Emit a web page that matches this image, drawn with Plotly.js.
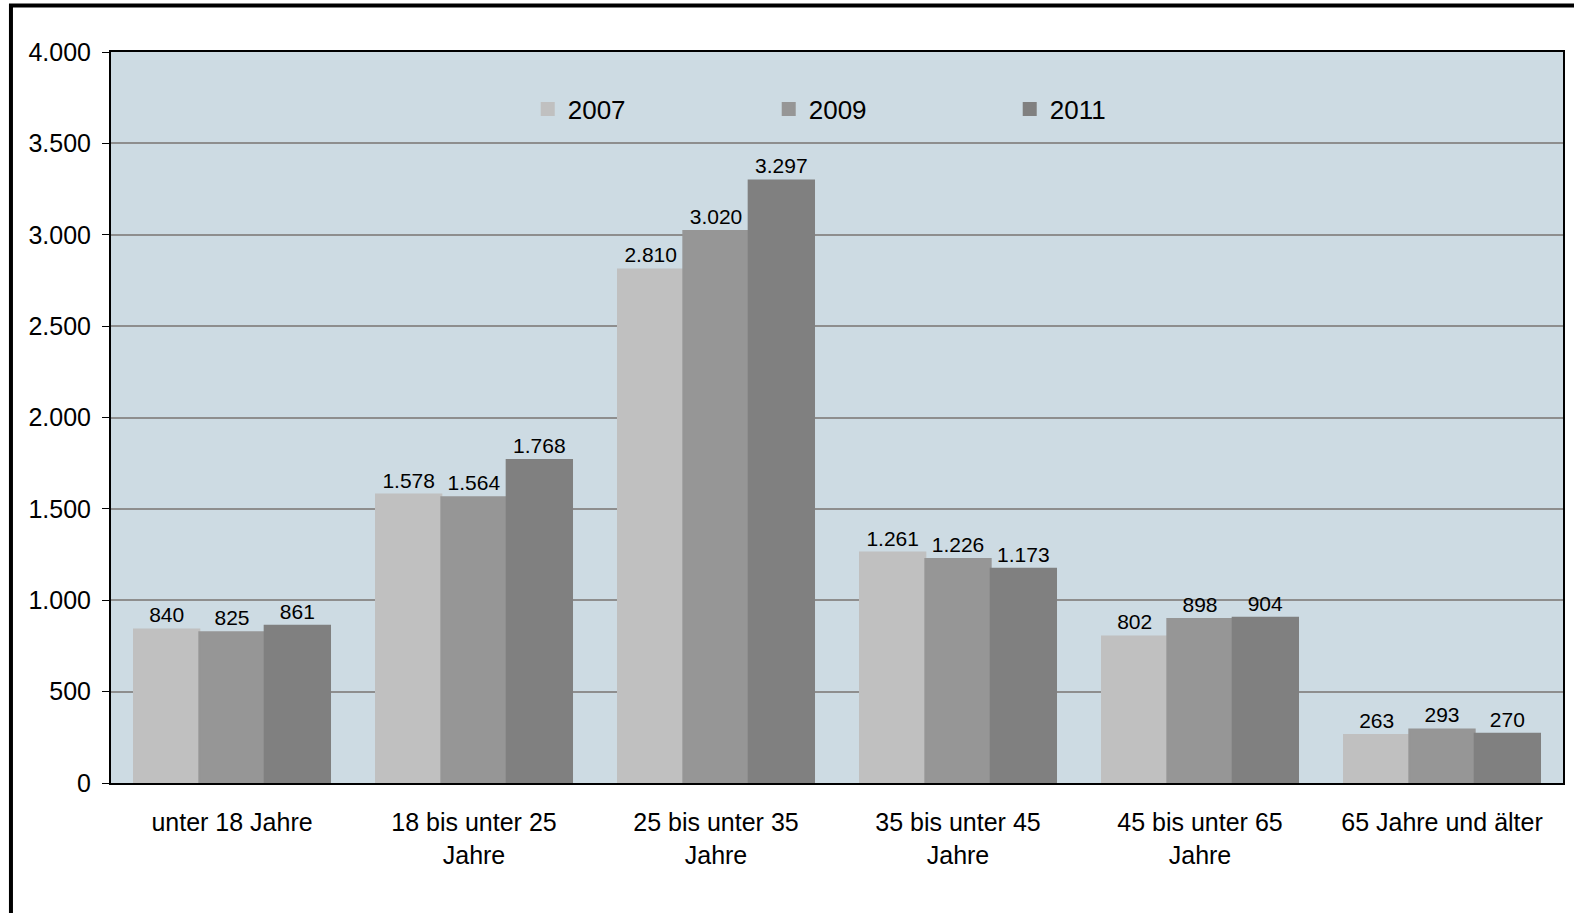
<!DOCTYPE html>
<html>
<head>
<meta charset="utf-8">
<script src="https://cdn.plot.ly/plotly-3.0.1.min.js"></script>
<style>
html,body{margin:0;padding:0;background:#fff;}
#chart{width:1574px;height:913px;}
</style>
</head>
<body>
<div id="chart"></div>
<script>
const categories = ["unter 18 Jahre", "18 bis unter 25<br>Jahre", "25 bis unter 35<br>Jahre", "35 bis unter 45<br>Jahre", "45 bis unter 65<br>Jahre", "65 Jahre und älter"];
const seriesNames = ["2007", "2009", "2011"];
const values2007 = [840, 1578, 2810, 1261, 802, 263];
const values2009 = [825, 1564, 3020, 1226, 898, 293];
const values2011 = [861, 1768, 3297, 1173, 904, 270];
const colors = ["#C0C0C0", "#969696", "#808080"];

const FONT = '"Liberation Sans", Arial, sans-serif';
const allValues = [values2007, values2009, values2011];

const traces = allValues.map((vals, i) => ({
  type: 'bar',
  name: seriesNames[i],
  x: categories,
  y: vals,
  marker: {color: colors[i], line: {width: 2, color: colors[i]}},
  texttemplate: '%{y:,d}',
  textposition: 'outside',
  cliponaxis: false,
  textfont: {family: FONT, size: 21, color: '#000'},
  hoverinfo: 'x+y+name'
}));

const layout = {
  width: 1574,
  height: 913,
  margin: {l: 111, r: 11, t: 52, b: 130},
  paper_bgcolor: '#ffffff',
  plot_bgcolor: '#CDDBE3',
  separators: ',.',
  font: {family: FONT, color: '#000'},
  barmode: 'group',
  bargap: 0.19,
  bargroupgap: 0,
  showlegend: true,
  legend: {
    orientation: 'h',
    x: 0.287,
    xanchor: 'left',
    y: 0.922,
    yanchor: 'middle',
    entrywidth: 196,
    entrywidthmode: 'pixels',
    itemwidth: 30,
    bgcolor: 'rgba(0,0,0,0)',
    font: {family: FONT, size: 26, color: '#000'}
  },
  xaxis: {
    type: 'category',
    showgrid: false,
    showline: true,
    linecolor: '#000',
    linewidth: 2,
    mirror: true,
    ticks: '',
    ticklabelstandoff: 16,
    tickfont: {family: FONT, size: 25, color: '#000'},
    fixedrange: true
  },
  yaxis: {
    range: [0, 4000],
    dtick: 500,
    tick0: 0,
    tickformat: ',d',
    showgrid: true,
    gridcolor: '#8E8E8E',
    gridwidth: 2,
    zeroline: false,
    showline: true,
    linecolor: '#000',
    linewidth: 2,
    mirror: true,
    ticks: 'outside',
    ticklen: 7,
    tickcolor: '#000',
    tickwidth: 1,
    ticklabelstandoff: 6,
    tickfont: {family: FONT, size: 25, color: '#000'},
    fixedrange: true
  },
  shapes: [{
    type: 'rect',
    xref: 'paper', yref: 'paper',
    x0: -0.0689, x1: 1.2,
    y0: -0.4, y1: 1.0636,
    line: {color: '#000', width: 4},
    fillcolor: 'rgba(0,0,0,0)',
    layer: 'above'
  }]
};

Plotly.newPlot('chart', traces, layout, {displayModeBar: false, staticPlot: true});
</script>
</body>
</html>
